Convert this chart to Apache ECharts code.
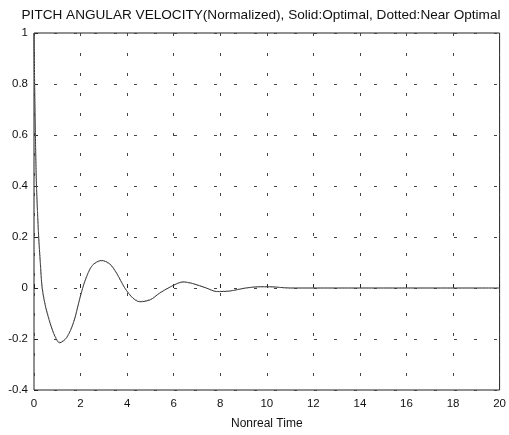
<!DOCTYPE html>
<html>
<head>
<meta charset="utf-8">
<script src="https://cdn.jsdelivr.net/npm/echarts@6/dist/echarts.min.js"></script>
<style>
  html, body { margin: 0; padding: 0; background: #fff; }
  #chart { width: 509px; height: 435px; }
</style>
</head>
<body>
<div id="chart"></div>
<script>
// nonreal time samples
const times = [0, 0.03, 0.06, 0.1, 0.15, 0.2, 0.27, 0.35, 0.5, 0.7, 0.9, 1.1, 1.4, 1.7, 2.0, 2.2, 2.5, 2.9, 3.25, 3.55, 3.9, 4.25, 4.55, 5.0, 5.4, 5.85, 6.4, 6.8, 7.4, 7.85, 8.4, 9.1, 9.7, 10.1, 11, 12, 14, 16, 18, 20];
// Solid: Optimal
const optimal = [1, 0.78, 0.6, 0.42, 0.3, 0.2, 0.1, 0.0, -0.075, -0.14, -0.19, -0.215, -0.195, -0.135, -0.03, 0.03, 0.088, 0.108, 0.095, 0.058, 0.0, -0.04, -0.054, -0.046, -0.02, 0.004, 0.024, 0.018, 0.0, -0.014, -0.012, 0.0, 0.005, 0.005, 0.0, 0.0, 0.0, 0.0, 0.0, 0.0];
// Dotted: Near Optimal
const nearOptimal = [1, 0.77, 0.59, 0.41, 0.3, 0.21, 0.11, 0.01, -0.07, -0.135, -0.185, -0.212, -0.193, -0.132, -0.028, 0.032, 0.088, 0.106, 0.093, 0.056, 0.0, -0.038, -0.052, -0.044, -0.018, 0.004, 0.022, 0.017, 0.0, -0.013, -0.011, 0.0, 0.004, 0.004, 0.0, 0.0, 0.0, 0.0, 0.0, 0.0];

const titleText = 'PITCH ANGULAR VELOCITY(Normalized), Solid:Optimal, Dotted:Near Optimal';
const xName = 'Nonreal Time';

const chart = echarts.init(document.getElementById('chart'));
const gridDash = { color: '#444', width: 1, type: [3, 17] };
chart.setOption({
    animation: false,
    title: {
        text: titleText,
        left: 256,
        textAlign: 'center',
        top: 3,
        textStyle: { fontFamily: 'Liberation Sans', fontSize: 13.6, fontWeight: 'normal', color: '#111' },
    },
    grid: {
        left: 34,
        right: 9,
        top: 33,
        bottom: 38,
        show: true,
        borderColor: '#222',
        borderWidth: 1,
    },
    xAxis: {
        type: 'value',
        min: 0,
        max: 20,
        interval: 2,
        name: xName,
        nameLocation: 'middle',
        nameGap: 28,
        nameTextStyle: { fontFamily: 'Liberation Sans', fontSize: 12, color: '#111' },
        axisLine: { show: false },
        axisTick: { show: true, inside: true, length: 4, lineStyle: { color: '#222' } },
        axisLabel: { fontFamily: 'Liberation Sans', fontSize: 11.5, color: '#111', margin: 8 },
        splitLine: { show: true, lineStyle: gridDash },
    },
    yAxis: {
        type: 'value',
        min: -0.4,
        max: 1,
        interval: 0.2,
        axisLine: { show: false },
        axisTick: { show: true, inside: true, length: 4, lineStyle: { color: '#222' } },
        axisLabel: {
            fontFamily: 'Liberation Sans', fontSize: 11.5, color: '#111', margin: 6,
            formatter: (v) => String(Math.round(v * 10) / 10),
        },
        splitLine: { show: true, lineStyle: gridDash },
    },
    series: [
        {
            name: 'Optimal',
            type: 'line',
            smooth: 0.3,
            showSymbol: false,
            data: times.map((t, i) => [t, optimal[i]]),
            lineStyle: { color: '#333', width: 1 },
        },
        {
            name: 'Near Optimal',
            type: 'line',
            smooth: 0.3,
            showSymbol: false,
            data: times.map((t, i) => [t, nearOptimal[i]]),
            lineStyle: { color: '#777', width: 1, type: [1, 2] },
        },
    ],
});
</script>
</body>
</html>
